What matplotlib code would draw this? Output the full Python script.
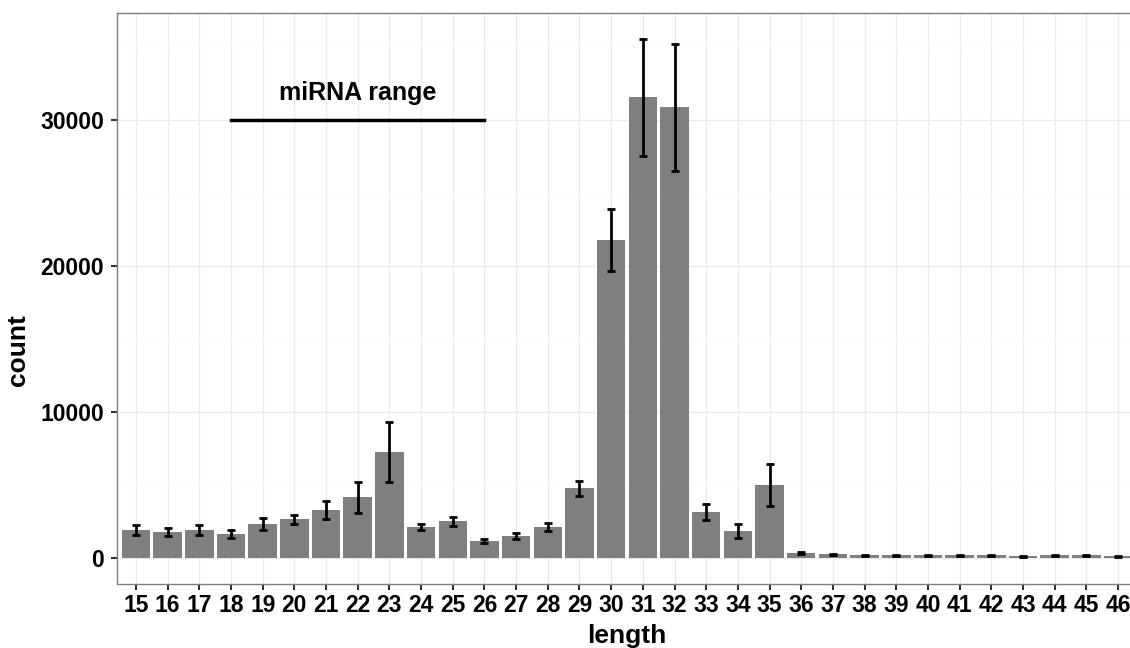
import matplotlib
matplotlib.use("Agg")
import matplotlib.pyplot as plt
from matplotlib.ticker import MultipleLocator

plt.rcParams['font.family'] = ['Liberation Sans', 'DejaVu Sans']
plt.rcParams['font.weight'] = 'bold'

# read-length distribution (mean count and standard error per length)
lengths = [15, 16, 17, 18, 19, 20, 21, 22, 23, 24, 25, 26, 27, 28, 29, 30,
           31, 32, 33, 34, 35, 36, 37, 38, 39, 40, 41, 42, 43, 44, 45, 46]
counts = [1880, 1745, 1880, 1607, 2290, 2630, 3250, 4140, 7240, 2090, 2500, 1130,
          1470, 2090, 4750, 21790, 31570, 30880, 3110, 1810, 4960, 310, 240, 170,
          170, 170, 170, 170, 100, 170, 170, 100]
errors = [365, 295, 355, 265, 400, 315, 600, 1060, 2030, 185, 305, 160,
          205, 275, 525, 2105, 4010, 4380, 550, 470, 1440, 40, 35, 35,
          35, 35, 35, 35, 35, 35, 35, 35]

mirna_start, mirna_end, mirna_y = 18, 26, 30000
mirna_label = "miRNA range"

fig = plt.figure(figsize=(11.3, 6.48), dpi=100)
# panel runs past the right edge, as in the original (the "46" label is clipped)
ax = fig.add_axes([117 / 1130, 64.5 / 648, 1020 / 1130, 570.5 / 648])

ax.bar(lengths, counts, width=0.9, color='#7f7f7f', zorder=2)
ax.errorbar(lengths, counts, yerr=errors, fmt='none', ecolor='black',
            elinewidth=2, capsize=3, capthick=2, zorder=3)

ax.plot([mirna_start, mirna_end], [mirna_y, mirna_y], color='black', lw=2.5, zorder=3)
ax.text((mirna_start + mirna_end) / 2, mirna_y + 1900, mirna_label, ha='center',
        va='center', fontsize=18, fontweight='bold')

top = max(c + e for c, e in zip(counts, errors))
ax.set_xlim(min(lengths) - 0.6, max(lengths) + 0.6)
ax.set_ylim(-0.05 * top, 1.05 * top)

ax.set_xticks(lengths)
ax.yaxis.set_major_locator(MultipleLocator(10000))
ax.yaxis.set_minor_locator(MultipleLocator(5000))

ax.grid(which='major', color='#ebebeb', lw=1, zorder=0)
ax.grid(which='minor', axis='y', color='#fafafa', lw=1, zorder=0)
ax.set_axisbelow(True)

for s in ax.spines.values():
    s.set_color('#7f7f7f')
    s.set_linewidth(1)

ax.tick_params(axis='both', which='major', length=4.5, width=1.5, color='#333333',
               labelsize=16.5, labelcolor='black')
ax.tick_params(axis='x', which='major', pad=3)
ax.tick_params(axis='y', which='major', pad=5)
ax.tick_params(axis='y', which='minor', length=0)
for lab in ax.get_xticklabels() + ax.get_yticklabels():
    lab.set_fontweight('bold')

fig.text(627 / 1130, 5 / 648, "length", ha='center', va='baseline',
         fontsize=19, fontweight='bold')
fig.text(18 / 1130, 298 / 648, "count", ha='center', va='center', rotation=90,
         fontsize=19, fontweight='bold')

fig.savefig("out.png", dpi=100)
